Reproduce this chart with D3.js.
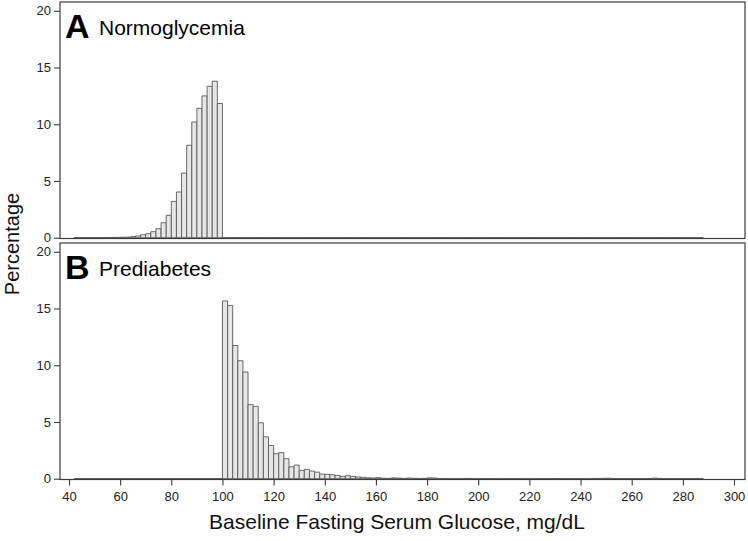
<!DOCTYPE html>
<html><head><meta charset="utf-8">
<script src="https://cdn.jsdelivr.net/npm/d3@7"></script>
<style>
html,body{margin:0;padding:0;background:#fff;}
svg{display:block;font-family:"Liberation Sans",Arial,sans-serif;}
</style></head>
<body><svg id="chart" width="748" height="541"></svg>
<script>
// Bin width (mg/dL) and bin starts
const binWidth = 2;
const binStarts = d3.range(42, 288, 2); // 42 .. 286 (123 bins)
const xTicks = [40,60,80,100,120,140,160,180,200,220,240,260,280,300];
const yTicks = [0,5,10,15,20];

const panelLabels = ["A","B"];
const panelTitles = ["Normoglycemia","Prediabetes"];

// Panel A: Normoglycemia (percent per 2 mg/dL bin)
const normoValues = [
 0.02,0.01,0.01,0.01,0.01,0.01,0.02,0.02,0.03,0.04,
 0.05,0.09,0.15,0.26,0.35,0.53,0.79,1.32,1.97,3.2,
 4.03,5.7,8.15,10.2,11.4,12.5,13.35,13.8,11.83,
 0,0,0,0,0,0,0,0,0,0, 0,0,0,0,0,0,0,0,0,0,
 0,0,0,0,0,0,0,0,0,0, 0,0,0,0,0,0,0,0,0,0,
 0,0,0,0,0,0,0,0,0,0, 0,0,0,0,0,0,0,0,0,0,
 0,0,0,0,0,0,0,0,0,0, 0,0,0,0,0,0,0,0,0,0,
 0,0,0,0,0,0,0,0,0,0, 0,0,0,0
];
// Panel B: Prediabetes
const prediabValues = [
 0.01,0.01,0.01,0.01,0.01,0.01,0.01,0.01,0.01,0.01,
 0.01,0.01,0.01,0.01,0.01,0.01,0.01,0.01,0.01,0.01,
 0.01,0.01,0.01,0.01,0.01,0.01,0.01,0.01,0.01,
 15.67,15.26,11.74,10.4,9.4,6.53,6.38,4.93,3.69,2.93,
 2.2,2.3,1.76,1.05,1.2,0.73,0.82,0.67,0.58,0.41,
 0.38,0.35,0.29,0.2,0.26,0.2,0.15,0.12,0.08,0.06,
 0.09,0.04,0.03,0.07,0.05,0.03,0.06,0.03,0.02,0.03,
 0.07,0.06,0.02,
 0.02,0.01,0.02,0.01,0.01,0.02,0.01,0.01,0.01,0.01,
 0.01,0.02,0.01,0.01,0.01,0.01,0.02,0.01,0.01,0.01,
 0.01,0.01,0.01,0.01,0.01,0.01,0.01,0.01,0.01,0.02,
 0.02,0.03,0.04,0.02,0.01,0.01,0.01,0.01,0.01,0.01,
 0.02,0.05,0.03,0.01,0.01,0.01,0.01,0.01,0.01,0.01,
 0.01
];
const seriesValues = [normoValues, prediabValues];

const svg = d3.select("#chart");
const frameLeft = 60, frameRight = 745;
const panels = [
  {top: 2, bottom: 238.5},
  {top: 243, bottom: 479.5}
];

const x = d3.scaleLinear().domain([40, 300]).range([69, 734]);

panels.forEach((p, i) => {
  const y = d3.scaleLinear().domain([0, 20]).range([p.bottom - 0.8, p.top + 8.8]);
  const g = svg.append("g");

  const vals = seriesValues[i];
  g.selectAll("path.bar").data(binStarts.map((b, k) => ({b, v: vals[k] || 0})))
    .enter().append("path")
    .attr("class", "bar")
    .attr("d", d => {
      const x0 = x(d.b), x1 = x(d.b + binWidth), y0 = y(0), y1 = y(d.v);
      return `M${x0},${y0}V${y1}H${x1}V${y0}Z`;
    })
    .attr("fill", "#e6e6e6")
    .attr("stroke", "#5a5a5a")
    .attr("stroke-width", 0.9);

  g.append("rect")
    .attr("x", frameLeft).attr("y", p.top)
    .attr("width", frameRight - frameLeft).attr("height", p.bottom - p.top)
    .attr("fill", "none").attr("stroke", "#3c3c3c").attr("stroke-width", 1.2);

  const yAxis = d3.axisLeft(y).tickValues(yTicks).tickSize(6).tickPadding(3);
  const ya = g.append("g").attr("transform", `translate(${frameLeft},0)`).call(yAxis);
  ya.select(".domain").remove();
  ya.selectAll("line").attr("stroke", "#3c3c3c").attr("stroke-width", 1.1);
  ya.selectAll("text").attr("font-size", 13).attr("fill", "#222")
    .attr("font-family", "'Liberation Sans', Arial, sans-serif");

  g.append("text").attr("x", 65).attr("y", p.top + 36)
    .attr("font-size", 34).attr("font-weight", "bold").attr("fill", "#000")
    .text(panelLabels[i]);
  g.append("text").attr("x", 99).attr("y", p.top + 33)
    .attr("font-size", 21).attr("fill", "#000")
    .text(panelTitles[i]);
});

const xAxis = d3.axisBottom(x).tickValues(xTicks).tickSize(6).tickPadding(6);
const xa = svg.append("g").attr("transform", `translate(0,${panels[1].bottom})`).call(xAxis);
xa.select(".domain").remove();
xa.selectAll("line").attr("stroke", "#3c3c3c").attr("stroke-width", 1.1);
xa.selectAll("text").attr("font-size", 13).attr("fill", "#222")
  .attr("font-family", "'Liberation Sans', Arial, sans-serif");

svg.append("text").attr("x", 397).attr("y", 529).attr("text-anchor", "middle")
  .attr("font-size", 21).attr("fill", "#111")
  .text("Baseline Fasting Serum Glucose, mg/dL");
svg.append("text").attr("transform", "translate(19,244) rotate(-90)")
  .attr("text-anchor", "middle").attr("font-size", 20).attr("fill", "#111")
  .text("Percentage");
</script></body></html>
